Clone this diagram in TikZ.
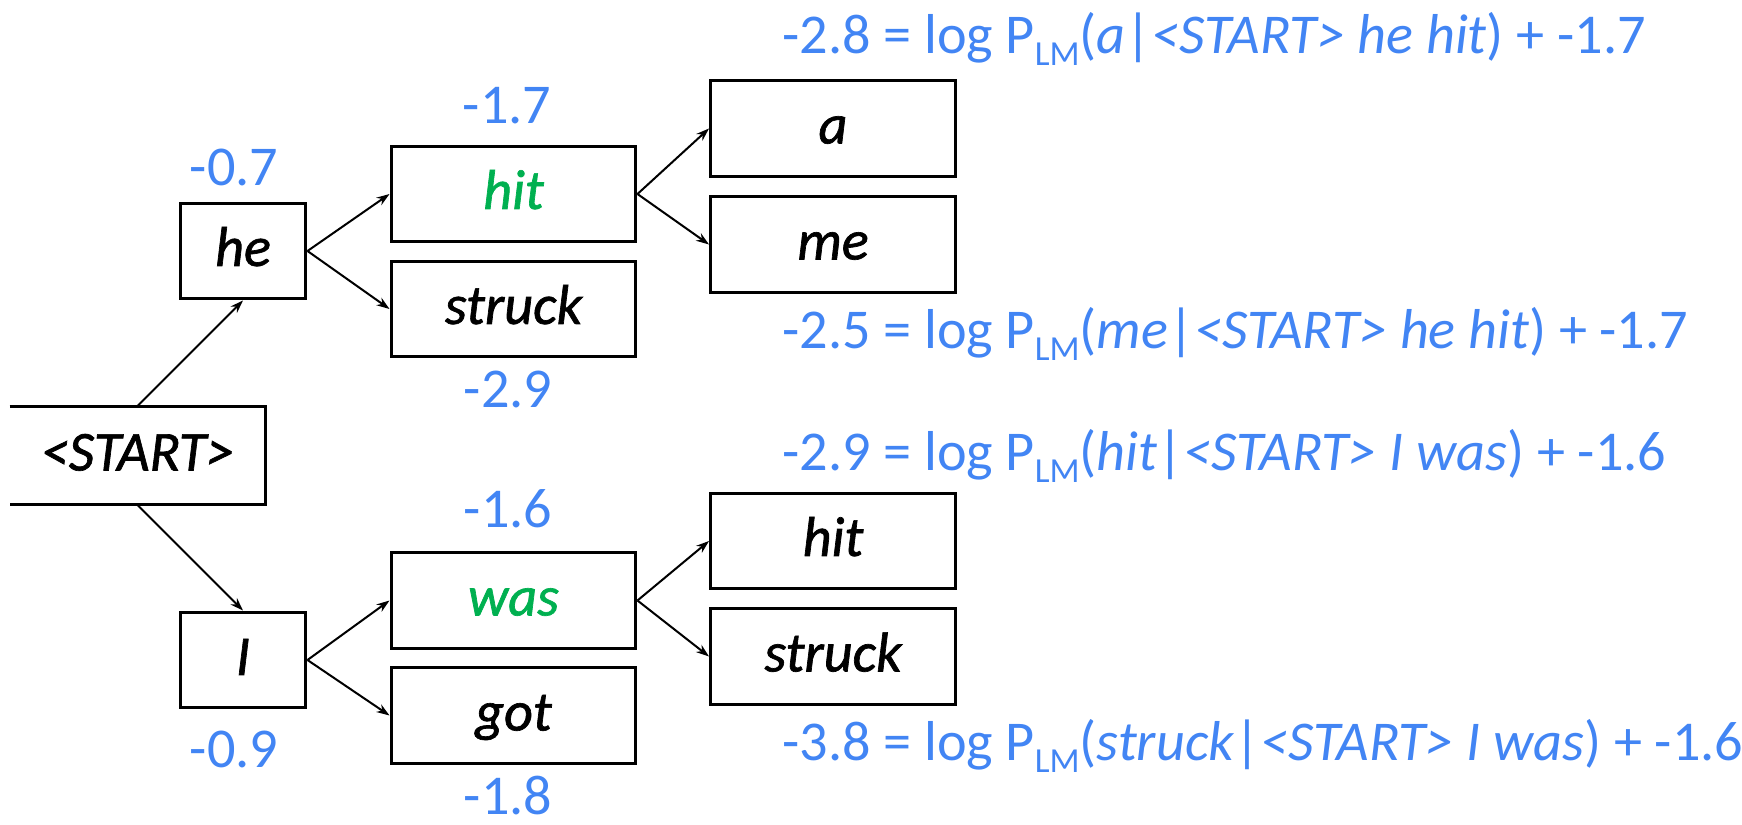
\documentclass[tikz,border=0pt]{standalone}
\usepackage{fontspec}
\setmainfont{Carlito}
\newfontfamily\wordfont[FakeBold=1.2]{Carlito}
\usetikzlibrary{arrows.meta}
\definecolor{scoreblue}{RGB}{66,133,244}
\definecolor{pickgreen}{RGB}{0,176,80}
% P with a lowered, smaller "LM" subscript
\newcommand{\plm}{P\raisebox{-0.22em}{\fontsize{20}{20}\selectfont LM}}

\begin{document}
\begin{tikzpicture}[x=0.02cm,y=-0.02cm,
  word/.style={draw, line width=0.06cm, minimum height=1.92cm, inner sep=0pt,
    text height=24pt, text depth=7pt, font=\wordfont\fontsize{32}{38}\selectfont\itshape},
  short/.style={word, minimum width=2.52cm},
  long/.style={word, minimum width=4.9cm},
  edge/.style={line width=0.04cm, -{Stealth[length=0.26cm,width=0.18cm]}},
  score/.style={text=scoreblue, inner sep=0pt, anchor=base, font=\fontsize{32}{38}\selectfont},
  formula/.style={score, anchor=base west}]
\useasboundingbox (0,0) rectangle (1742,825);

% start box (open on its left side)
\node[word, draw=none, minimum width=5.06cm] (start) at (137.5,455.5) {<START>};
\draw[line width=0.06cm] (start.north west) -- (start.north east)
  -- (start.south east) -- (start.south west);

% first words
\node[short] (he) at (243,251) {he};
\node[short] (i) at (243,660) {I};

% second words
\node[long] (hit) at (513.5,194) {\textcolor{pickgreen}{hit}};
\node[long] (struck) at (513.5,309) {struck};
\node[long] (was) at (513.5,600.5) {\textcolor{pickgreen}{was}};
\node[long] (got) at (513.5,715.5) {got};

% third words
\node[long] (a) at (833,128.5) {a};
\node[long] (me) at (833,244.5) {me};
\node[long] (hitb) at (833,541) {hit};
\node[long] (struckb) at (833,656.5) {struck};

% edges
\draw[edge] (start.north) -- (he.south);
\draw[edge] (start.south) -- (i.north);
\draw[edge] (he.east) -- (hit.west);
\draw[edge] (he.east) -- (struck.west);
\draw[edge] (i.east) -- (was.west);
\draw[edge] (i.east) -- (got.west);
\draw[edge] (hit.east) -- (a.west);
\draw[edge] (hit.east) -- (me.west);
\draw[edge] (was.east) -- (hitb.west);
\draw[edge] (was.east) -- (struckb.west);

% scores
\node[score] (s07) at (234,185) {-0.7};
\node[score] (s17) at (507,123) {-1.7};
\node[score] (s29) at (508,407) {-2.9};
\node[score] (s16) at (508,527) {-1.6};
\node[score] (s09) at (234,767) {-0.9};
\node[score] (s18) at (508,814) {-1.8};

% score formulas
\node[formula] (fa) at (782,53) {-2.8 = log \plm(\textit{a}|\textit{<START> he hit}) + -1.7};
\node[formula] (fme) at (782,348) {-2.5 = log \plm(\textit{me}|\textit{<START> he hit}) + -1.7};
\node[formula] (fhit) at (782,470) {-2.9 = log \plm(\textit{hit}|\textit{<START> I was}) + -1.6};
\node[formula] (fstruck) at (782,760) {-3.8 = log \plm(\textit{struck}|\textit{<START> I was}) + -1.6};
\end{tikzpicture}
\end{document}
